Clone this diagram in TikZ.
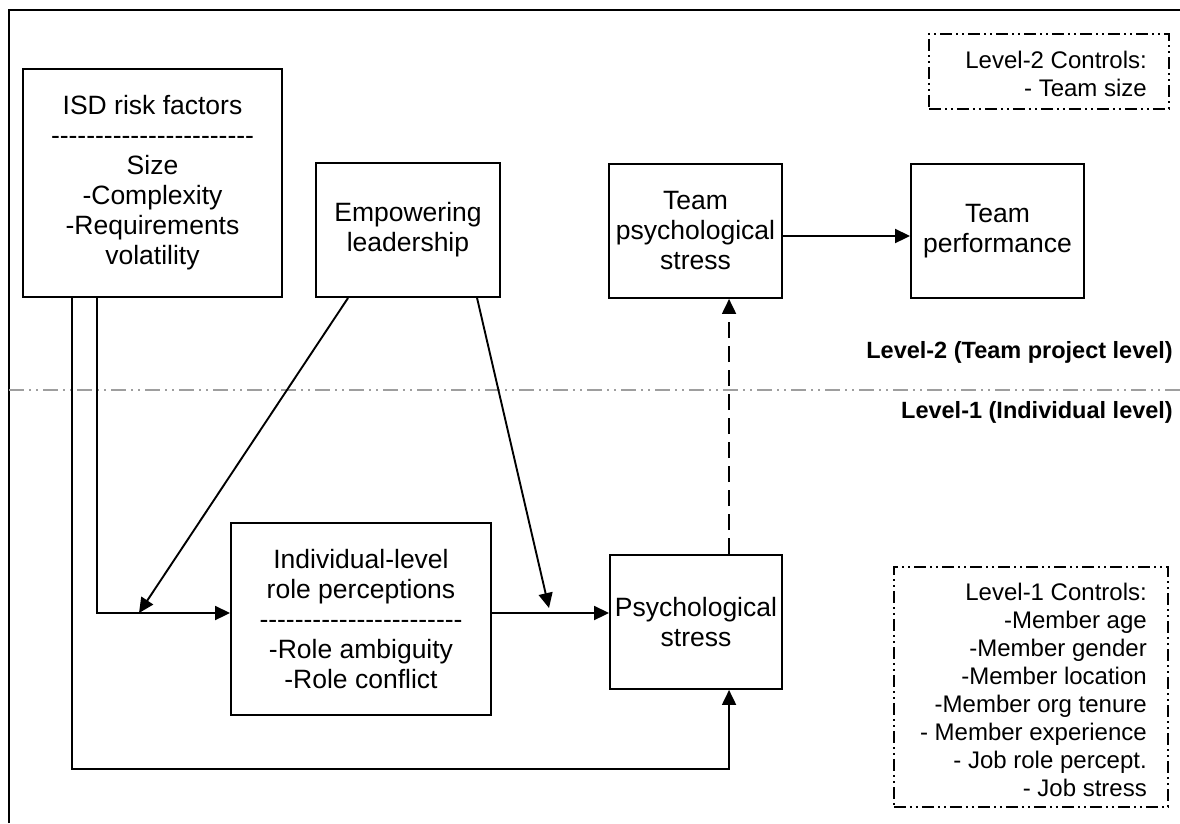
\documentclass[tikz,border=0pt]{standalone}
\usepackage{fontspec}
\setmainfont{Liberation Sans}
\usetikzlibrary{arrows.meta}

% a row of separate hyphens (braces stop the en-dash ligature)
\newcommand\hyrow{-{}-{}-{}-{}-{}-{}-{}-{}-{}-{}-{}-{}-{}-{}-{}-{}-{}-{}-{}-{}-{}-{}-}

\begin{document}
\begin{tikzpicture}[x=1pt,y=-1pt,
  box/.style={draw,line width=1.9pt,rectangle,inner sep=0pt,align=center,
    font=\fontsize{26.5}{30}\selectfont},
  link/.style={line width=1.9pt,-{Triangle[length=15pt,width=14pt]}},
  ctrlbox/.style={draw,line width=1.8pt,
    dash pattern=on 12pt off 4pt on 2pt off 4pt on 2pt off 4pt,inner sep=0pt},
  ctrltext/.style={align=right,inner sep=0pt,font=\fontsize{24}{28}\selectfont},
  lvl/.style={anchor=east,inner sep=0pt,font=\fontsize{23.5}{28}\selectfont\bfseries},
  levelline/.style={line width=2.1pt,color=black!38,
    dash pattern=on 15pt off 5pt on 2pt off 5pt on 2pt off 5pt},
]
\useasboundingbox (0,0) rectangle (1180,823);

% outer frame (top and left edges)
\draw[line width=2.6pt] (9,823) -- (9,10) -- (1180,10);

% boundary between the two levels
\draw[levelline] (9,390) -- (1180,390);
\node[lvl] (l2) at (1173,352) {Level-2 (Team project level)};
\node[lvl] (l1) at (1173,412) {Level-1 (Individual level)};

% constructs
\node[box,minimum width=259pt,minimum height=228pt] (isd) at (152.5,183)
  {ISD risk factors\\\hyrow\\Size\\-Complexity\\-Requirements\\volatility};
\node[box,minimum width=184pt,minimum height=134pt] (emp) at (408,230)
  {Empowering\\leadership};
\node[box,minimum width=173pt,minimum height=134pt] (ts) at (695.5,231)
  {Team\\psychological\\stress};
\node[box,minimum width=173pt,minimum height=134pt] (tp) at (997.5,231)
  {Team\\performance};
\node[box,minimum width=260pt,minimum height=192pt] (role) at (361,619)
  {Individual-level\\role perceptions\\\hyrow\\-Role ambiguity\\-Role conflict};
\node[box,minimum width=172pt,minimum height=134pt] (psych) at (696,622)
  {Psychological\\stress};

% control variables
\node[ctrlbox,minimum width=240pt,minimum height=75pt,anchor=north west] (c2) at (928,33) {};
\node[ctrltext,anchor=east] (c2t) at (1147,74) {Level-2 Controls:\\- Team size};
\node[ctrlbox,minimum width=274pt,minimum height=240pt,anchor=north west] (c1) at (893,566) {};
\node[ctrltext,anchor=east] (c1t) at (1147,689.5)
  {Level-1 Controls:\\-Member age\\-Member gender\\-Member location\\-Member org tenure\\- Member experience\\- Job role percept.\\- Job stress};

% connectors
\coordinate (rowy) at (0,613);
\coordinate (j1) at (139,613);
\coordinate (j2) at (549,608);

\draw[link] ([xshift=75pt]isd.south west) |- (role.west |- rowy);
\draw[link] ([xshift=50pt]isd.south west) -- ++(0,471) -| ([xshift=120pt]psych.south west);
\draw[link] ([xshift=33pt]emp.south west) -- (j1);
\draw[link] ([xshift=162pt]emp.south west) -- (j2);
\draw[link] (role.east |- rowy) -- (psych.west |- rowy);
\draw[link,dash pattern=on 16pt off 8pt] ([xshift=120pt]psych.north west) -- ([xshift=121pt]ts.south west);
\draw[link] ([yshift=-5pt]ts.east) -- ([yshift=-5pt]tp.west);
\end{tikzpicture}
\end{document}
